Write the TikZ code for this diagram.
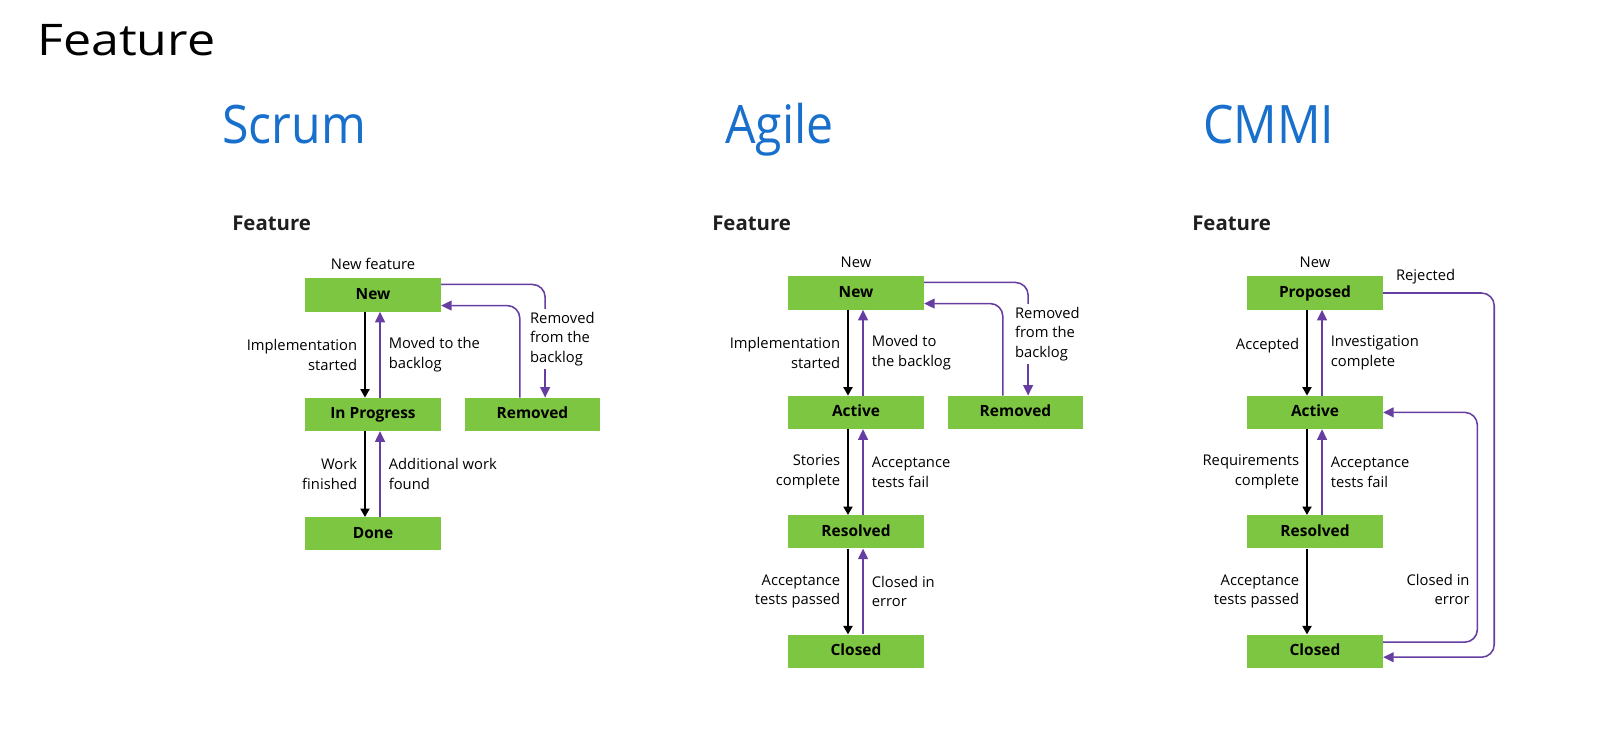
\documentclass[tikz,border=0pt]{standalone}
\usepackage{fontspec}
\setmainfont{Open Sans}
\newfontfamily\headfont[FakeStretch=0.91]{Open Sans}
\newfontfamily\titlefont[FakeStretch=1.15]{Open Sans}
\usetikzlibrary{positioning,arrows.meta}
\definecolor{boxgreen}{RGB}{125,198,66}
\definecolor{flowpurple}{RGB}{102,62,162}
\definecolor{headblue}{RGB}{24,112,204}
\begin{document}
\begin{tikzpicture}[x=0.025cm,y=-0.025cm,node distance=61pt,
  state/.style={fill=boxgreen,minimum width=96.5pt,minimum height=23.5pt,inner sep=0pt,
    text height=8pt,text depth=2pt,font=\fontsize{11}{12}\selectfont\bfseries},
  lbl/.style={font=\fontsize{10.5}{13.9}\selectfont,text=black,inner sep=2pt},
  head/.style={anchor=base west,inner sep=0pt,text=headblue,font=\headfont\fontsize{37.7}{45}\selectfont},
  sub/.style={anchor=base west,inner sep=0pt,text=black!88,font=\fontsize{14.5}{17}\selectfont\bfseries},
  fwd/.style={line width=1.1pt,-{Triangle[width=6.5pt,length=6pt]}},
  back/.style={line width=1.1pt,flowpurple,-{Triangle[width=7pt,length=7.5pt]}},
  loop/.style={line width=1.1pt,flowpurple,rounded corners=9pt}]

\useasboundingbox[fill=white] (0,0) rectangle (1601,733);

\node[anchor=base west,inner sep=0pt,font=\titlefont\fontsize{31}{36}\selectfont] (title) at (37,55) {Feature};
\node[head] (hscrum) at (222,143) {Scrum};
\node[head] (hagile) at (725,143) {Agile};
\node[head] (hcmmi) at (1203,143) {CMMI};
\node[sub] (fscrum) at (232,230) {Feature};
\node[sub] (fagile) at (712,230) {Feature};
\node[sub] (fcmmi) at (1192,230) {Feature};

% Scrum
\node[state] (s1) at (373,295) {New};
\node[state,below=of s1] (s2) {In Progress};
\node[state,below=of s2] (s3) {Done};
\node[state,right=16.5pt of s2] (s4) {Removed};
\node[lbl,above=4pt of s1] (s0) {New feature};
\draw[fwd] ([xshift=-5.7pt]s1.south) -- node[lbl,left=3pt,align=right] (ls1) {Implementation\\started} ([xshift=-5.7pt]s2.north);
\draw[back] ([xshift=5pt]s2.north) -- node[lbl,right=3.7pt,align=left] (ls2) {Moved to the\\backlog} ([xshift=5pt]s1.south);
\draw[fwd] ([xshift=-5.7pt]s2.south) -- node[lbl,left=3pt,align=right] (ls3) {Work\\finished} ([xshift=-5.7pt]s3.north);
\draw[back] ([xshift=5pt]s3.north) -- node[lbl,right=3.7pt,align=left] (ls4) {Additional work\\found} ([xshift=5pt]s2.south);
\node[lbl,align=left,anchor=west] (s5) at (527,339) {Removed\\from the\\backlog};
\coordinate (s4a) at ([xshift=9pt]s4.north);
\coordinate (s4b) at ([xshift=-9pt]s4.north);
\draw[loop] ([yshift=7.5pt]s1.east) -| (s4a |- s5.north);
\draw[back] (s4a |- s5.south) -- (s4a);
\draw[back,loop] (s4b) |- ([yshift=-7.5pt]s1.east);

% Agile
\node[state] (a1) at (856,293) {New};
\node[state,below=of a1] (a2) {Active};
\node[state,below=of a2] (a3) {Resolved};
\node[state,below=of a3] (a4) {Closed};
\node[state,right=16.5pt of a2] (a5) {Removed};
\node[lbl,above=4pt of a1] (a0) {New};
\draw[fwd] ([xshift=-5.7pt]a1.south) -- node[lbl,left=3pt,align=right] (la1) {Implementation\\started} ([xshift=-5.7pt]a2.north);
\draw[back] ([xshift=5pt]a2.north) -- node[lbl,right=3.7pt,align=left] (la2) {Moved to\\the backlog} ([xshift=5pt]a1.south);
\draw[fwd] ([xshift=-5.7pt]a2.south) -- node[lbl,left=3pt,align=right] (la3) {Stories\\complete} ([xshift=-5.7pt]a3.north);
\draw[back] ([xshift=5pt]a3.north) -- node[lbl,right=3.7pt,align=left] (la4) {Acceptance\\tests fail} ([xshift=5pt]a2.south);
\draw[fwd] ([xshift=-5.7pt]a3.south) -- node[lbl,left=3pt,align=right] (la5) {Acceptance\\tests passed} ([xshift=-5.7pt]a4.north);
\draw[back] ([xshift=5pt]a4.north) -- node[lbl,right=3.7pt,align=left] (la6) {Closed in\\error} ([xshift=5pt]a3.south);
\node[lbl,align=left,anchor=west] (a6) at (1012,334) {Removed\\from the\\backlog};
\coordinate (a5a) at ([xshift=9pt]a5.north);
\coordinate (a5b) at ([xshift=-9pt]a5.north);
\draw[loop] ([yshift=7.5pt]a1.east) -| (a5a |- a6.north);
\draw[back] (a5a |- a6.south) -- (a5a);
\draw[back,loop] (a5b) |- ([yshift=-7.5pt]a1.east);

% CMMI
\node[state] (c1) at (1315,293) {Proposed};
\node[state,below=of c1] (c2) {Active};
\node[state,below=of c2] (c3) {Resolved};
\node[state,below=of c3] (c4) {Closed};
\node[lbl,above=4pt of c1] (c0) {New};
\draw[fwd] ([xshift=-5.7pt]c1.south) -- node[lbl,left=3pt,yshift=5pt] (lc1) {Accepted} ([xshift=-5.7pt]c2.north);
\draw[back] ([xshift=5pt]c2.north) -- node[lbl,right=3.7pt,align=left] (lc2) {Investigation\\complete} ([xshift=5pt]c1.south);
\draw[fwd] ([xshift=-5.7pt]c2.south) -- node[lbl,left=3pt,align=right] (lc3) {Requirements\\complete} ([xshift=-5.7pt]c3.north);
\draw[back] ([xshift=5pt]c3.north) -- node[lbl,right=3.7pt,align=left] (lc4) {Acceptance\\tests fail} ([xshift=5pt]c2.south);
\draw[fwd] ([xshift=-5.7pt]c3.south) -- node[lbl,left=3pt,align=right] (lc5) {Acceptance\\tests passed} ([xshift=-5.7pt]c4.north);
\node[lbl,anchor=west] (lc6) at ([xshift=7pt,yshift=11.5pt]c1.east) {Rejected};
\coordinate (rjx) at ([xshift=79pt]c1.east);
\coordinate (rjin) at ([yshift=-4.3pt]c4.east);
\draw[back,loop] (c1.east) -- (rjx) -- (rjx |- rjin) -- (rjin);
\coordinate (ceout) at ([yshift=6.4pt]c4.east);
\coordinate (cex) at ([xshift=67pt]ceout);
\draw[back,loop] (ceout) -- (cex) -- node[lbl,left=3pt,pos=0.23,align=right] (lc7) {Closed in\\error} (cex |- c2.east) -- (c2.east);
\end{tikzpicture}
\end{document}
